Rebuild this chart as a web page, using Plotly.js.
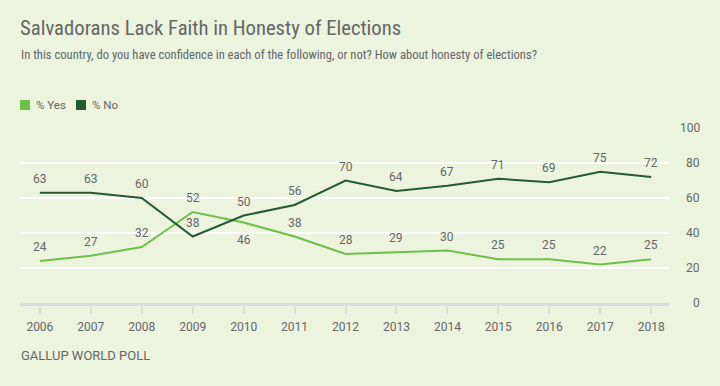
<!DOCTYPE html>
<html>
<head>
<meta charset="utf-8">
<script src="https://cdn.plot.ly/plotly-3.0.1.min.js"></script>
<style>html,body{margin:0;padding:0;background:#ECF4DE;}#chart{width:720px;height:386px;}</style>
</head>
<body>
<div id="chart"></div>
<script>
const years = [2006,2007,2008,2009,2010,2011,2012,2013,2014,2015,2016,2017,2018];
const yesValues = [24,27,32,52,46,38,28,29,30,25,25,22,25];
const noValues = [63,63,60,38,50,56,70,64,67,71,69,75,72];
const yTicks = [0,20,40,60,80,100];
const titleText = "Salvadorans Lack Faith in Honesty of Elections";
const subtitleText = "In this country, do you have confidence in each of the following, or not? How about honesty of elections?";
const sourceText = "GALLUP WORLD POLL";
const seriesNames = ["% Yes", "% No"];

const yesColor = "#6CC04A";
const noColor = "#245B31";
const textColor = "#666666";
const condFont = "'Liberation Sans Narrow', 'Roboto Condensed', 'Arial Narrow', Roboto, sans-serif";
const font = "Roboto, 'Liberation Sans', sans-serif";

const traces = [
  {x: years, y: yesValues, mode: 'lines', line:{color:yesColor,width:2}, showlegend:false, hoverinfo:'skip'},
  {x: years, y: noValues, mode: 'lines', line:{color:noColor,width:2}, showlegend:false, hoverinfo:'skip'}
];

const labelAnns = [];
years.forEach((yr,i)=>{
  const below = (i === 4);
  labelAnns.push({x:yr, y:yesValues[i], text:String(yesValues[i]), showarrow:false, xanchor:'center', yanchor:'middle',
    yshift: below ? -17 : 14, font:{family:font,size:12,color:textColor}});
  labelAnns.push({x:yr, y:noValues[i], text:String(noValues[i]), showarrow:false, xanchor:'center', yanchor:'middle',
    yshift: 14, font:{family:font,size:12,color:textColor}});
});

const yTickAnns = yTicks.map(v => ({x:1, xref:'paper', y:v, yref:'y', text:String(v), showarrow:false,
  xanchor:'right', yanchor:'middle', xshift:33, font:{family:font,size:12,color:textColor}}));

const legendColors = [yesColor, noColor];
const legendOffsets = [0, 56];
const legendShapes = legendColors.map((c,i) => ({type:'rect', xref:'paper', yref:'paper', xsizemode:'pixel', ysizemode:'pixel',
  xanchor:0, yanchor:1, x0:legendOffsets[i], x1:legendOffsets[i]+10, y0:18, y1:28, fillcolor:c, line:{width:0}}));
const legendAnns = seriesNames.map((n,i) => ({text:n, xref:'paper', yref:'paper', x:0, y:1+(128-105)/175,
  xanchor:'left', yanchor:'middle', showarrow:false, xshift:legendOffsets[i]+14, font:{family:font,size:11.5,color:textColor}}));

const layout = {
  width:720, height:386,
  paper_bgcolor:'#ECF4DE', plot_bgcolor:'#ECF4DE',
  margin:{l:20, r:51, t:128, b:83},
  font:{family:font, color:textColor},
  showlegend:false,
  title:{text:titleText, font:{family:condFont, size:20.7, color:textColor}, x:20/720, xref:'container', xanchor:'left', y:1-28/386, yref:'container', yanchor:'middle'},
  xaxis:{range:[2005.61,2018.35], tickvals:years, ticktext:years.map(String), showgrid:false, zeroline:false,
    showline:true, linecolor:'#DCDCDC', linewidth:3, ticks:'outside', ticklen:8, tickwidth:2, tickcolor:'#DCDCDC',
    tickfont:{family:font,size:12,color:textColor}, ticklabelstandoff:3, fixedrange:true},
  yaxis:{range:[0,100], tickvals:yTicks, side:'right', showgrid:true, gridcolor:'#FFFFFF', gridwidth:2, zeroline:false,
    showline:false, ticks:'', showticklabels:false, fixedrange:true},
  shapes: legendShapes,
  annotations:[
    {text:subtitleText, xref:'paper', yref:'paper', x:0, y:1+(128-55)/175, xanchor:'left', yanchor:'middle', showarrow:false,
     font:{family:condFont,size:12.6,color:textColor}, xshift:-1},
    {text:sourceText, xref:'paper', yref:'paper', x:0, y:-(355-303)/175, xanchor:'left', yanchor:'middle', showarrow:false,
     font:{family:font,size:13,color:textColor}, xshift:-1},
    ...legendAnns,
    ...yTickAnns,
    ...labelAnns
  ]
};
Plotly.newPlot('chart', traces, layout, {displayModeBar:false, staticPlot:true});
</script>
</body>
</html>
